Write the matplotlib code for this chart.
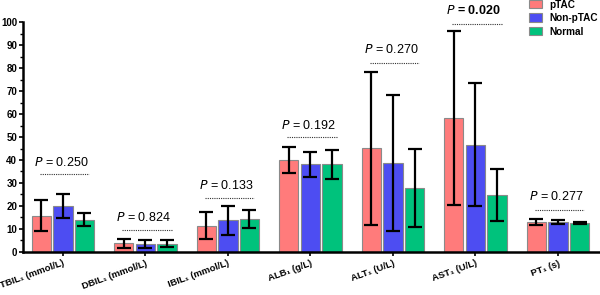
import numpy as np
import matplotlib
matplotlib.use('Agg')
import matplotlib.pyplot as plt
from matplotlib.ticker import MultipleLocator

plt.rcParams['font.family'] = ['Liberation Sans', 'DejaVu Sans']

categories = ['TBIL\u2081 (mmol/L)', 'DBIL\u2081 (mmol/L)', 'IBIL\u2081 (mmol/L)',
              'ALB\u2081 (g/L)', 'ALT\u2081 (U/L)', 'AST\u2081 (U/L)', 'PT\u2081 (s)']
groups = ['pTAC', 'Non-pTAC', 'Normal']
ptac_mean = [15.8, 3.8, 11.5, 40.0, 45.1, 58.3, 13.1]
ptac_sd = [6.6, 2.0, 5.7, 5.5, 33.2, 37.8, 1.2]
nonptac_mean = [19.9, 3.6, 13.8, 38.1, 38.6, 46.7, 13.0]
nonptac_sd = [5.1, 1.8, 6.4, 5.6, 29.5, 26.8, 1.0]
normal_mean = [14.1, 3.5, 14.4, 38.1, 27.8, 24.9, 12.6]
normal_sd = [2.8, 1.5, 3.8, 6.3, 17.1, 11.4, 0.6]
p_values = ['0.250', '0.824', '0.133', '0.192', '0.270', '0.020', '0.277']
p_text_y = [39, 15, 29, 55, 88, 105, 24]
p_line_y = [33.8, 9.6, 23.3, 50, 82.3, 99.4, 18.1]

colors = ['#FF7B7B', '#4D4DF2', '#00C27C']
means = [ptac_mean, nonptac_mean, normal_mean]
sds = [ptac_sd, nonptac_sd, normal_sd]

fig = plt.figure(figsize=(6, 2.95), dpi=100)
ax = fig.add_axes([0.038, 0.146, 0.962, 0.779])

x = np.arange(len(categories))
w = 0.235
off = 0.262
for i in range(3):
    ax.bar(x + (i - 1) * off, means[i], width=w, color=colors[i],
           edgecolor='#8a8a8a', linewidth=0.8, label=groups[i], zorder=2)
    ax.errorbar(x + (i - 1) * off, means[i], yerr=sds[i], fmt='none',
                ecolor='black', elinewidth=1.6, capsize=5, capthick=1.6, zorder=3)

for j in range(len(categories)):
    bold = p_values[j] == '0.020'
    if bold:
        label = '$\\bf{\\it{P}}$ = ' + p_values[j]
    else:
        label = '$\\it{P}$ = ' + p_values[j]
    ax.text(x[j] - 0.02, p_text_y[j], label, ha='center', va='center', fontsize=9,
            fontweight='bold' if bold else 'normal', clip_on=False)
    ax.plot([x[j] - 0.28, x[j] + 0.32], [p_line_y[j], p_line_y[j]], ls=(0, (1, 1)),
            color='#333333', lw=0.8, clip_on=False)

ax.set_xlim(-0.485, 6.51)
ax.set_ylim(0, 100)
ax.yaxis.set_major_locator(MultipleLocator(10))
ax.yaxis.set_minor_locator(MultipleLocator(5))
ax.spines['top'].set_visible(False)
ax.spines['right'].set_visible(False)
ax.spines['left'].set_linewidth(1.8)
ax.spines['bottom'].set_linewidth(1.8)
ax.tick_params(axis='y', which='major', length=3, width=1.2, labelsize=7, pad=1)
ax.tick_params(axis='y', which='minor', length=2, width=1.0)
ax.tick_params(axis='x', length=3, width=1.2, labelsize=6.8, pad=2)
for lab in ax.get_yticklabels():
    lab.set_fontweight('bold')
ax.set_xticks(x)
ax.set_xticklabels(categories, rotation=20, ha='right', fontweight='bold',
                   rotation_mode='anchor')

fig.legend(loc='upper left', bbox_to_anchor=(0.88, 1.005), frameon=False,
           prop={'weight': 'bold', 'size': 7.2}, handlelength=1.3, handleheight=0.9,
           handletextpad=0.7, labelspacing=0.35, borderaxespad=0, borderpad=0.1)

plt.savefig('out.png', dpi=100)
